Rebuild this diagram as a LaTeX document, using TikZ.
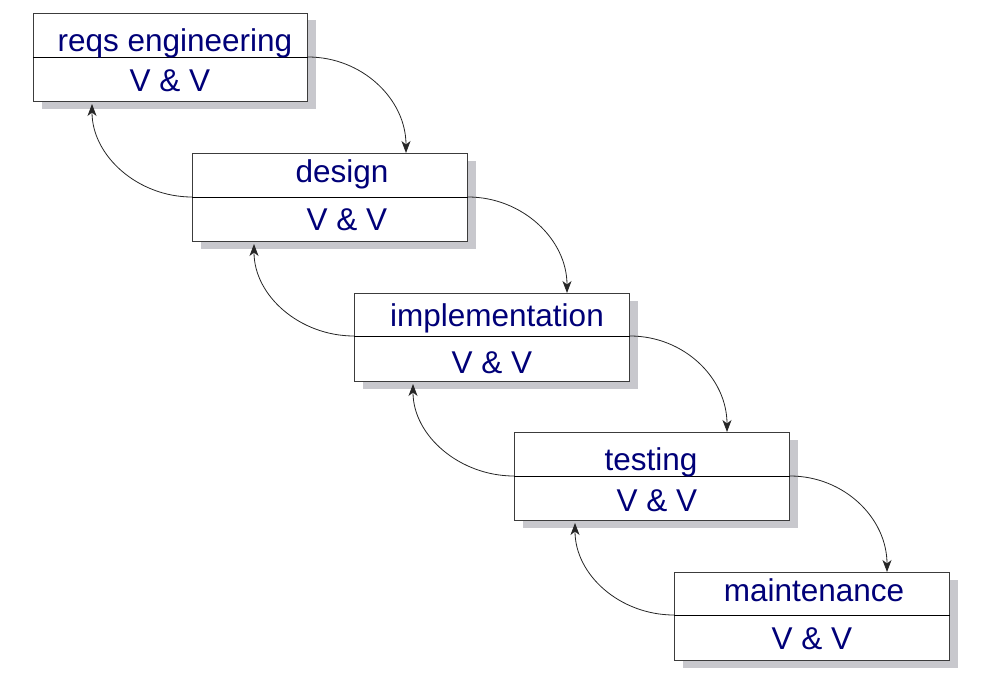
\documentclass[tikz,border=0pt]{standalone}
\usepackage{fontspec}
\setmainfont{Liberation Sans}
\usetikzlibrary{arrows.meta,shadows,calc}
\definecolor{navy}{RGB}{0,0,120}
\definecolor{shadowgray}{RGB}{200,200,205}
\definecolor{edgegray}{RGB}{60,60,60}
\begin{document}
\begin{tikzpicture}[x=1pt,y=-1pt,
  stagebox/.style={draw=edgegray, line width=1pt, fill=white, minimum width=275pt,
    minimum height=88pt, inner sep=0pt, anchor=north west,
    drop shadow={shadow xshift=8pt, shadow yshift=-7pt, fill=shadowgray, opacity=1}},
  lbl/.style={text=navy, font=\fontsize{31.5}{36}\selectfont, anchor=base, inner sep=0pt},
  divline/.style={draw=black, line width=0.9pt},
  flow/.style={draw=black!85, line width=0.8pt, -{Stealth[length=12pt,width=9pt,inset=3.5pt]}}]
\useasboundingbox (0,0) rectangle (988,693);

% boxes
\node[stagebox, minimum width=274pt] (b1) at (33,13) {};
\node[stagebox] (b2) at (192,153) {};
\node[stagebox] (b3) at (354,293) {};
\node[stagebox] (b4) at (514,432) {};
\node[stagebox] (b5) at (674,572) {};

% dividers
\coordinate (o1) at (b1.east |- 0,57);  \coordinate (w1) at (b1.west |- 0,57);
\coordinate (o2) at (b2.east |- 0,197); \coordinate (w2) at (b2.west |- 0,197);
\coordinate (o3) at (b3.east |- 0,336); \coordinate (w3) at (b3.west |- 0,336);
\coordinate (o4) at (b4.east |- 0,476); \coordinate (w4) at (b4.west |- 0,476);
\coordinate (o5) at (b5.east |- 0,615); \coordinate (w5) at (b5.west |- 0,615);
\foreach \i in {1,...,5} { \draw[divline] (w\i) -- (o\i); }

% labels
\node[lbl] (t1) at (175,52) {reqs engineering};
\node[lbl] (v1) at (170,92) {V \& V};
\node[lbl] (t2) at (342,182) {design};
\node[lbl] (v2) at (347,230) {V \& V};
\node[lbl] (t3) at (497,326) {implementation};
\node[lbl] (v3) at (492,373) {V \& V};
\node[lbl] (t4) at (651,470) {testing};
\node[lbl] (v4) at (657,511) {V \& V};
\node[lbl] (t5) at (814,601) {maintenance};
\node[lbl] (v5) at (812,649) {V \& V};

% arrow end points
\coordinate (i2) at (b2.north -| 406,0);
\coordinate (i3) at (b3.north -| 567,0);
\coordinate (i4) at (b4.north -| 727,0);
\coordinate (i5) at (b5.north -| 887,0);
\coordinate (r1) at ($(b1.south -| 92,0)+(0,2)$);
\coordinate (r2) at ($(b2.south -| 254,0)+(0,2)$);
\coordinate (r3) at ($(b3.south -| 413,0)+(0,2)$);
\coordinate (r4) at ($(b4.south -| 575,0)+(0,2)$);

% forward arrows
\draw[flow] (o1) .. controls +(54,0) and +(0,-54) .. (i2);
\draw[flow] (o2) .. controls +(54,0) and +(0,-54) .. (i3);
\draw[flow] (o3) .. controls +(54,0) and +(0,-54) .. (i4);
\draw[flow] (o4) .. controls +(54,0) and +(0,-54) .. (i5);

% backward arrows
\draw[flow] (w2) .. controls +(-54,0) and +(0,52) .. (r1);
\draw[flow] (w3) .. controls +(-54,0) and +(0,52) .. (r2);
\draw[flow] (w4) .. controls +(-54,0) and +(0,52) .. (r3);
\draw[flow] (w5) .. controls +(-54,0) and +(0,52) .. (r4);
\end{tikzpicture}
\end{document}
